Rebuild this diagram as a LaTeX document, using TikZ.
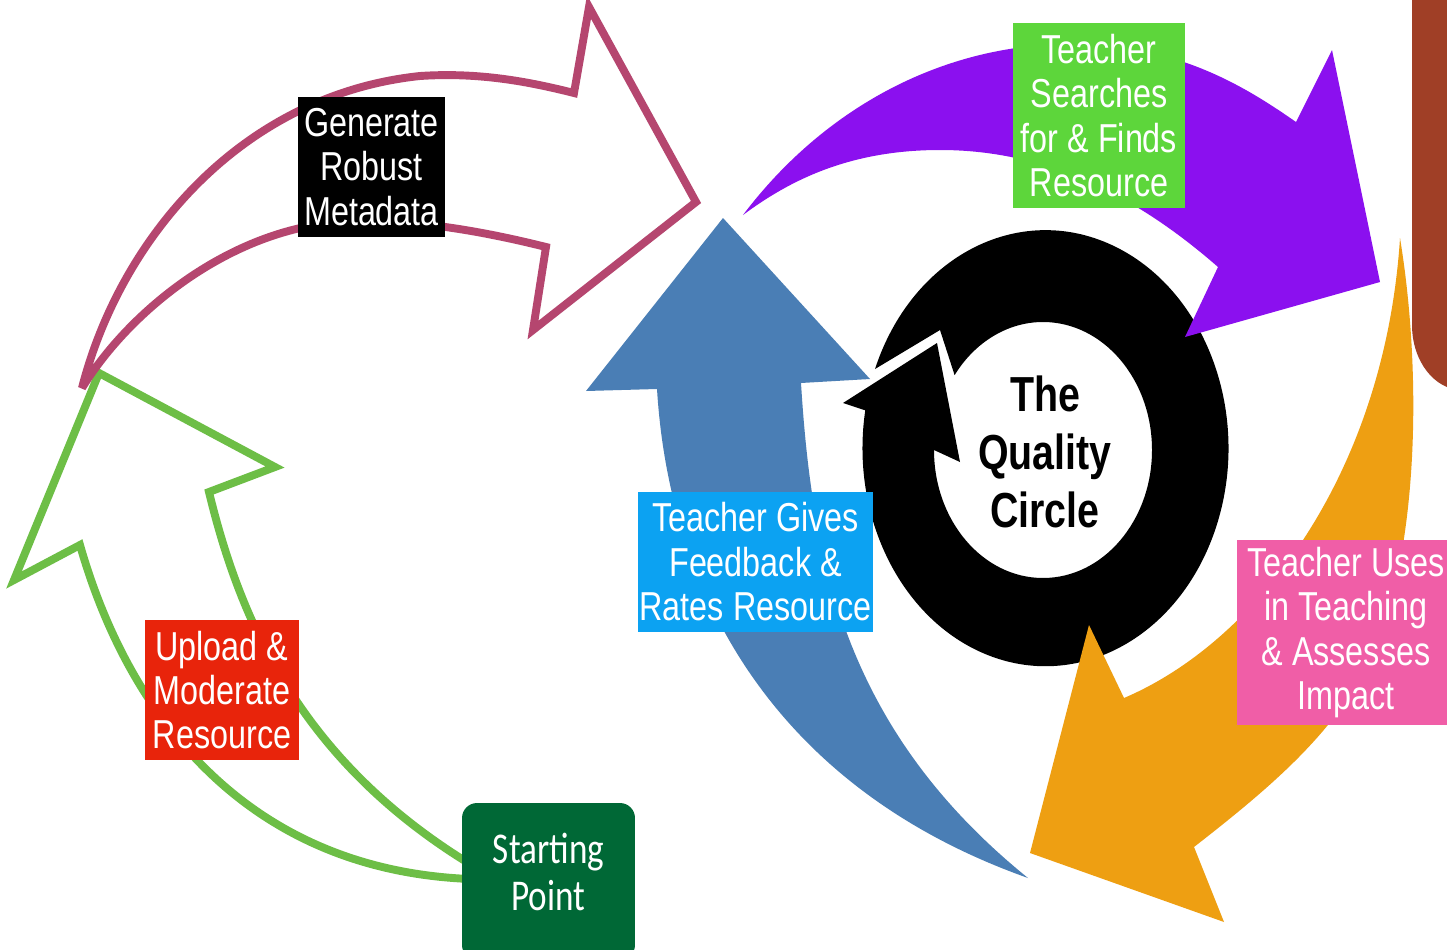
\documentclass[tikz,border=0pt]{standalone}
\usepackage{fontspec}
\setmainfont{Liberation Sans}
\newfontfamily\cond[FakeStretch=0.8]{Liberation Sans}
\newfontfamily\calib[FakeStretch=0.8]{Carlito}
\definecolor{pinkc}{HTML}{B5466F}
\definecolor{greenc}{HTML}{6DBE46}
\definecolor{bluec}{HTML}{4A7EB5}
\definecolor{purplec}{HTML}{8B10EF}
\definecolor{orangec}{HTML}{EE9F12}
\definecolor{brownc}{HTML}{A03F26}
\definecolor{boxgreen}{HTML}{5DD63B}
\definecolor{boxcyan}{HTML}{0CA2F2}
\definecolor{boxpink}{HTML}{F05EA7}
\definecolor{boxred}{HTML}{E8240B}
\definecolor{startg}{HTML}{006836}
\begin{document}
\begin{tikzpicture}[x=0.02cm,y=-0.02cm,
  outl/.style={line width=4.5pt,line join=miter,miter limit=4},
  lbox/.style={inner sep=0pt,text=white,align=center,font=\cond\fontsize{23}{25.3}\selectfont},
  qtext/.style={inner sep=0pt,text=black,align=center,font=\cond\bfseries\fontsize{28}{33}\selectfont},
  sbox/.style={inner sep=0pt,rounded corners=0.3cm},
  stext/.style={inner sep=0pt,text=white,align=center,font=\calib\fontsize{25}{27}\selectfont}]
\useasboundingbox (0,0) rectangle (1447,950);
\clip (0,0) rectangle (1447,950);
\fill[white] (0,0) rectangle (1447,950);
% black ring
\fill[black] (875,369) arc[start angle=201.3,end angle=550,x radius=183,y radius=218]
  -- (843,403) -- (937,343) -- (960,462) -- (934,450)
  arc[start angle=180,end angle=-144.2,x radius=109,y radius=128]
  -- (940,330) -- cycle;
% green outline arrow
\draw[greenc,outl] (99,373) -- (275,467) -- (209,492)
  .. controls (240,620) and (300,760) .. (470,864)
  -- (470,879)
  .. controls (250,870) and (130,720) .. (80,545)
  -- (14,580) -- cycle;
% pink outline arrow
\draw[pinkc,outl] (82,388) .. controls (120,240) and (240,95) .. (420,76)
  .. controls (480,72) and (530,82) .. (574,93)
  -- (589,7) -- (696,202) -- (533,330) -- (546,247)
  .. controls (470,228) and (400,218) .. (340,222)
  .. controls (230,230) and (130,310) .. (82,388)
  -- cycle;
% blue arrow
\fill[bluec] (723,218) -- (870,379) -- (801,383)
  .. controls (812,560) and (845,730) .. (1028,878)
  .. controls (780,790) and (670,600) .. (657,389)
  -- (586,391) -- cycle;
% purple arrow
\fill[purplec] (743,215) .. controls (830,100) and (960,35) .. (1100,45)
  .. controls (1190,52) and (1250,90) .. (1296,122)
  -- (1332,50) -- (1380,282) -- (1185,337) -- (1218,267)
  .. controls (1130,190) and (1040,150) .. (940,150)
  .. controls (850,150) and (790,180) .. (743,215)
  -- cycle;
% orange arrow
\fill[orangec] (1400,238) .. controls (1420,360) and (1420,520) .. (1382,632)
  .. controls (1350,720) and (1280,780) .. (1194,847)
  -- (1224,922) -- (1030,853) -- (1089,625) -- (1124,698)
  .. controls (1260,640) and (1385,470) .. (1400,238)
  -- cycle;
% brown shape
\fill[brownc] (1412,-5) -- (1412,325) arc[start angle=180,end angle=90,x radius=50,y radius=65] -- (1460,390) -- (1460,-5) -- cycle;
% labels
\node[lbox,fill=black,minimum width=2.94cm,minimum height=2.8cm] (gen) at (371.5,167) {Generate\\Robust\\Metadata};
\node[lbox,fill=boxgreen,minimum width=3.44cm,minimum height=3.7cm] (search) at (1099,115.5) {Teacher\\Searches\\for \& Finds\\Resource};
\node[lbox,fill=boxcyan,minimum width=4.7cm,minimum height=2.8cm] (gives) at (755.5,562) {Teacher Gives\\Feedback \&\\Rates Resource};
\node[lbox,fill=boxpink,minimum width=4.36cm,minimum height=3.7cm] (uses) at (1346,632.5) {Teacher Uses\\in Teaching\\\& Assesses\\Impact};
\node[lbox,fill=boxred,minimum width=3.08cm,minimum height=2.8cm] (upload) at (222,690) {Upload \&\\Moderate\\Resource};
\node[sbox,fill=startg,minimum width=3.46cm,minimum height=3.14cm] (start) at (548.5,881.5) {};
\node[stext] (starttext) at (548.5,872) {Starting\\Point};
\node[qtext] (qc) at (1045,452) {The\\Quality\\Circle};
\end{tikzpicture}
\end{document}
